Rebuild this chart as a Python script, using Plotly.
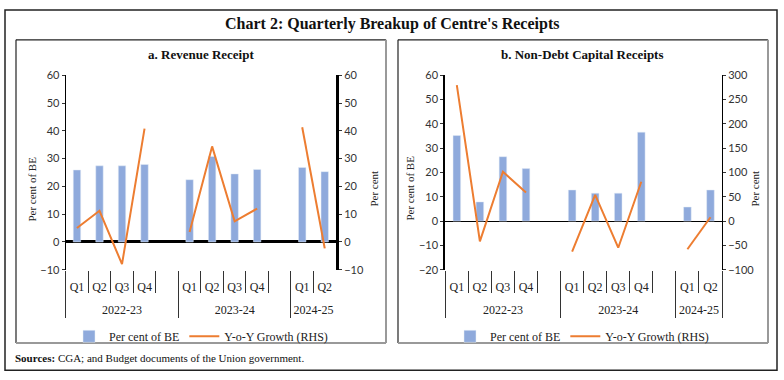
import plotly.graph_objects as go

W, H = 784, 380

# ---------------- data ----------------
years = ["2022-23"] * 5 + ["2023-24"] * 5 + ["2024-25"] * 2
quarters = ["Q1", "Q2", "Q3", "Q4", " ", "Q1", "Q2", "Q3", "Q4", " ", "Q1", "Q2"]

rev_be = [25.9, 27.4, 27.4, 27.9, None, 22.4, 30.8, 24.5, 26.1, None, 26.8, 25.3]
rev_growth = [5.0, 11.2, -8.0, 40.8, None, 3.6, 34.4, 7.4, 12.0, None, 41.3, -2.3]

ndcr_be = [35.2, 7.9, 26.5, 21.6, None, 12.8, 11.5, 11.5, 36.6, None, 5.8, 12.8]
ndcr_growth = [279.6, -41.6, 101.5, 58.6, None, -62.7, 54.0, -54.8, 81.0, None, -58.0, 7.9]

BAR_NAME = "Per cent of BE"
LINE_NAME = "Y-o-Y Growth (RHS)"

BAR_COLOR = "#8FAADC"
LINE_COLOR = "#ED7D31"
SERIF = "Liberation Serif"
NUMF = "Lato"


def px(x):
    return x / W


def py(y):
    return 1 - y / H


# the leading line break pushes the year row a little lower, as in the reference
xcat = [["<br>" + y for y in years], quarters]

fig = go.Figure()
fig.add_trace(go.Bar(x=xcat, y=rev_be, name=BAR_NAME, marker_color=BAR_COLOR,
                     xaxis="x", yaxis="y", legend="legend"))
fig.add_trace(go.Scatter(x=xcat, y=rev_growth, name=LINE_NAME, mode="lines",
                         line=dict(color=LINE_COLOR, width=2), connectgaps=False,
                         xaxis="x", yaxis="y2", legend="legend"))
fig.add_trace(go.Bar(x=xcat, y=ndcr_be, name=BAR_NAME, marker_color=BAR_COLOR,
                     xaxis="x2", yaxis="y3", legend="legend2"))
fig.add_trace(go.Scatter(x=xcat, y=ndcr_growth, name=LINE_NAME, mode="lines",
                         line=dict(color=LINE_COLOR, width=2), connectgaps=False,
                         xaxis="x2", yaxis="y4", legend="legend2"))

ydom = [py(272), py(70.7)]
tickfont = dict(family=NUMF, size=11, color="#333")
xfont = dict(family=SERIF, size=12, color="#222")

xcommon = dict(type="multicategory", showgrid=False, showline=False, zeroline=False,
               ticks="outside", tickson="boundaries", ticklen=22, tickcolor="#333",
               tickwidth=1, showdividers=True, dividercolor="#333", dividerwidth=1,
               tickangle=0, tickfont=xfont, ticklabelstandoff=8, fixedrange=True)

ycommon = dict(showgrid=False, ticks="outside", ticklen=3, tickcolor="#333",
               tickfont=tickfont, showline=True, linecolor="black", fixedrange=True)

fig.update_layout(
    width=W, height=H,
    margin=dict(l=0, r=0, t=0, b=0),
    paper_bgcolor="white", plot_bgcolor="white",
    bargap=0.67,
    font=dict(family=SERIF, size=12, color="#222"),
    xaxis=dict(domain=[px(65.7), px(336)], anchor="y", **xcommon),
    yaxis=dict(domain=ydom, anchor="x", range=[-10, 60], dtick=10, linewidth=1,
               zeroline=True, zerolinecolor="black", zerolinewidth=2.5, **ycommon),
    yaxis2=dict(overlaying="y", anchor="x", side="right", range=[-10, 60], dtick=10,
                linewidth=3, zeroline=False, **ycommon),
    xaxis2=dict(domain=[px(445.3), px(722)], anchor="y3", **xcommon),
    yaxis3=dict(domain=ydom, anchor="x2", range=[-20, 60], dtick=10, linewidth=2,
                zeroline=True, zerolinecolor="black", zerolinewidth=1.3, **ycommon),
    yaxis4=dict(overlaying="y3", anchor="x2", side="right", range=[-100, 300], dtick=50,
                linewidth=1, zeroline=False, **ycommon),
    legend=dict(orientation="h", x=px(201), xanchor="center", y=py(341), yanchor="middle",
                font=dict(family=SERIF, size=12, color="#222"), itemwidth=30,
                bgcolor="rgba(0,0,0,0)"),
    legend2=dict(orientation="h", x=px(582), xanchor="center", y=py(341), yanchor="middle",
                 font=dict(family=SERIF, size=12, color="#222"), itemwidth=30,
                 bgcolor="rgba(0,0,0,0)"),
)

shapes = []
# outer frame
shapes.append(dict(type="rect", xref="paper", yref="paper", x0=px(5), x1=px(777),
                   y0=py(376), y1=py(3), line=dict(color="#222", width=1.5)))
# panel frames
for x0, x1 in [(16, 386), (398, 768)]:
    shapes.append(dict(type="line", xref="paper", yref="paper", x0=px(x0), x1=px(x1),
                       y0=py(34), y1=py(34), line=dict(color="#222", width=1.2)))
    shapes.append(dict(type="line", xref="paper", yref="paper", x0=px(x0), x1=px(x0),
                       y0=py(34), y1=py(348), line=dict(color="#222", width=1.2)))
    shapes.append(dict(type="line", xref="paper", yref="paper", x0=px(x1), x1=px(x1),
                       y0=py(34), y1=py(348), line=dict(color="#999", width=2)))
    shapes.append(dict(type="line", xref="paper", yref="paper", x0=px(x0), x1=px(x1),
                       y0=py(348), y1=py(348), line=dict(color="#999", width=2)))
fig.update_layout(shapes=shapes)

ann = []
ann.append(dict(text="<b>Chart 2: Quarterly Breakup of Centre's Receipts</b>", x=px(392), y=py(18),
                xref="paper", yref="paper", showarrow=False, xanchor="center", yanchor="middle",
                font=dict(family=SERIF, size=16, color="#111")))
ann.append(dict(text="<b>a. Revenue Receipt</b>", x=px(201), y=py(49), xref="paper", yref="paper",
                showarrow=False, xanchor="center", yanchor="middle",
                font=dict(family=SERIF, size=13, color="#111")))
ann.append(dict(text="<b>b. Non-Debt Capital Receipts</b>", x=px(582), y=py(49), xref="paper",
                yref="paper", showarrow=False, xanchor="center", yanchor="middle",
                font=dict(family=SERIF, size=13, color="#111")))
for xx, t in [(32, "Per cent of BE"), (374, "Per cent"), (410, "Per cent of BE"), (755, "Per cent")]:
    ann.append(dict(text=t, x=px(xx), y=py(188), xref="paper", yref="paper", showarrow=False,
                    textangle=-90, xanchor="center", yanchor="middle",
                    font=dict(family=SERIF, size=11, color="#222")))
ann.append(dict(text="<b>Sources:</b> CGA; and Budget documents of the Union government.",
                x=px(13), y=py(363), xref="paper", yref="paper", showarrow=False,
                xanchor="left", yanchor="middle", font=dict(family=SERIF, size=11, color="#111")))
fig.update_layout(annotations=ann)

fig.write_html("out.html", config={"displayModeBar": False},
               post_script="document.body.style.margin='0';document.body.style.overflow='hidden';")
